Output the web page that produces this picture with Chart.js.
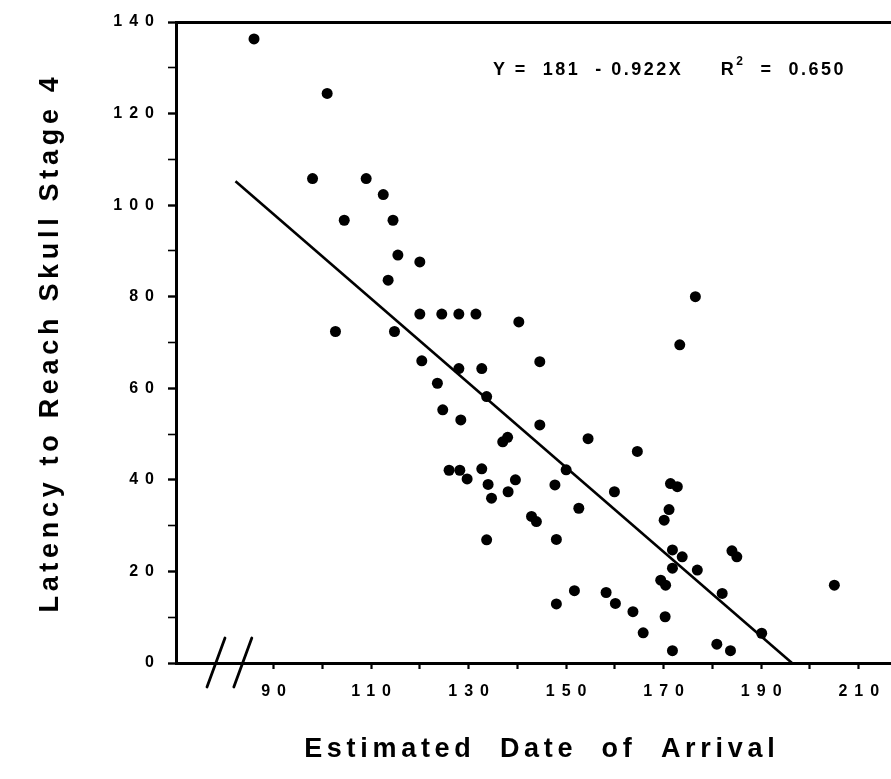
<!DOCTYPE html>
<html><head><meta charset="utf-8">
<script src="https://cdn.jsdelivr.net/npm/chart.js@4.4.1/dist/chart.umd.min.js"></script>
<style>
html,body{margin:0;padding:0;background:#fff;overflow:hidden;}
#wrap{position:relative;width:891px;height:779px;overflow:hidden;background:#fff;}
#c{display:block;}
#eq{position:absolute;left:493px;top:58px;font:bold 18px "Liberation Sans",Arial,sans-serif;letter-spacing:2.5px;white-space:pre;color:#000;line-height:22px;}
#eq sup{font-size:12px;position:relative;top:-10px;vertical-align:baseline;line-height:0;}
</style></head><body>
<div id="wrap"><canvas id="c" width="913" height="779"></canvas>
<div id="eq">Y =  181  - 0.922X     R<sup>2</sup>  =  0.650</div></div>
<script>
// Estimated date of arrival (x) and latency to reach skull stage 4 (y)
const arrivalDates = [86, 101, 98, 109, 112.5, 104.5, 114.5, 115.5, 120, 113.5,
  120, 124.5, 128, 131.5, 140.3, 102.7, 114.8, 176.5, 173.3, 120.4,
  128, 132.7, 123.6, 133.7, 124.7, 128.4, 137, 138, 126, 128.2,
  129.7, 132.7, 134, 134.7, 138.1, 139.6, 142.9, 143.9, 133.7, 144.6,
  144.6, 154.5, 164.6, 150, 147.7, 159.9, 171.4, 172.8, 152.6, 171.1,
  170.1, 148, 171.8, 173.8, 171.8, 176.9, 184, 185, 169.4, 170.4,
  182, 190.1, 205, 151.7, 148, 158.2, 160.1, 163.7, 165.8, 170.3,
  171.8, 180.9, 183.7];
const latencies = [136.3, 124.4, 105.8, 105.8, 102.3, 96.7, 96.7, 89.1, 87.6, 83.6,
  76.2, 76.2, 76.2, 76.2, 74.5, 72.4, 72.4, 80, 69.5, 66,
  64.3, 64.3, 61.1, 58.2, 55.3, 53.1, 48.3, 49.3, 42.1, 42.1,
  40.2, 42.4, 39, 36, 37.4, 40, 32, 30.9, 26.9, 65.8,
  52, 49, 46.2, 42.2, 38.9, 37.4, 39.2, 38.5, 33.8, 33.5,
  31.2, 27, 24.7, 23.2, 20.7, 20.3, 24.5, 23.2, 18.1, 17,
  15.2, 6.5, 17, 15.8, 12.9, 15.4, 13, 11.2, 6.6, 10.1,
  2.7, 4.1, 2.7];
// Fitted regression: Y = 181 - 0.922X
const fitIntercept = 181;
const fitSlope = -0.922;
const fitXStart = 82.2;
const xTickValues = [90, 100, 110, 120, 130, 140, 150, 160, 170, 180, 190, 200, 210, 220];
const xLabelValues = [90, 110, 130, 150, 170, 190, 210];
const yTickValues = [0, 10, 20, 30, 40, 50, 60, 70, 80, 90, 100, 110, 120, 130, 140];
const yLabelValues = [0, 20, 40, 60, 80, 100, 120, 140];
const axisBreakX = [78.2, 83.7];

const FONT = '"Liberation Sans", Arial, Helvetica, sans-serif';
const LS_TICK = 7, LS_TITLE = 4.7;

const scatterPoints = arrivalDates.map((x, i) => ({x: x, y: latencies[i]}));
const fitLine = [
  {x: fitXStart, y: fitIntercept + fitSlope * fitXStart},
  {x: -fitIntercept / fitSlope, y: 0}
];

const spacingPlugin = {
  id: 'spacing',
  beforeDraw(chart) {
    Object.values(chart.scales).forEach(s => {
      if (s._lsPatched) return;
      s._lsPatched = true;
      const dl = s.drawLabels, dt = s.drawTitle;
      s.drawLabels = function (area) {
        const ctx = this.ctx; ctx.save();
        ctx.letterSpacing = LS_TICK + 'px';
        if (this.isHorizontal()) ctx.translate(LS_TICK / 2, 0);
        dl.call(this, area); ctx.restore();
      };
      s.drawTitle = function () {
        const ctx = this.ctx; ctx.save();
        ctx.letterSpacing = LS_TITLE + 'px';
        dt.call(this); ctx.restore();
      };
    });
  }
};

const breakPlugin = {
  id: 'axisBreak',
  afterDraw(chart) {
    const ctx = chart.ctx, xs = chart.scales.x, y0 = chart.scales.y.getPixelForValue(0);
    ctx.save();
    ctx.strokeStyle = '#000'; ctx.lineWidth = 2.8; ctx.lineCap = 'round';
    axisBreakX.forEach(v => {
      const px = xs.getPixelForValue(v);
      ctx.beginPath();
      ctx.moveTo(px - 9, y0 + 24);
      ctx.lineTo(px + 9, y0 - 25);
      ctx.stroke();
    });
    ctx.restore();
  }
};

new Chart(document.getElementById('c'), {
  data: {
    datasets: [
      {type: 'scatter', data: scatterPoints, pointRadius: 5.5, pointHoverRadius: 5.5,
       backgroundColor: '#000', borderColor: '#000', borderWidth: 0},
      {type: 'line', data: fitLine, borderColor: '#000', borderWidth: 2.6,
       pointRadius: 0, fill: false, tension: 0}
    ]
  },
  options: {
    responsive: false,
    animation: false,
    events: [],
    layout: {padding: {left: 0, top: 22, right: 0, bottom: 0}},
    plugins: {legend: {display: false}, tooltip: {enabled: false}},
    scales: {
      x: {
        type: 'linear', position: 'bottom', min: 70, max: 220,
        afterBuildTicks: (s) => { s.ticks = xTickValues.map(v => ({value: v})); },
        afterFit: (s) => { s.height = 116; s.paddingRight = 0; s.paddingLeft = 0; },
        ticks: {
          autoSkip: false, maxRotation: 0, padding: 13, color: '#000',
          font: {family: FONT, size: 16, weight: 'bold'},
          callback: (v) => xLabelValues.includes(v) ? String(v) : ''
        },
        grid: {display: true, drawOnChartArea: false, drawTicks: true, tickLength: 6,
               tickWidth: 2.2, tickColor: '#000', color: '#000'},
        border: {display: true, width: 3, color: '#000'},
        title: {display: true, text: 'Estimated  Date  of  Arrival', color: '#000',
                font: {family: FONT, size: 27, weight: 'bold'}, padding: {top: 0, bottom: 13}}
      },
      xTop: {
        type: 'linear', position: 'top', min: 70, max: 220,
        afterFit: (s) => { s.height = 0; s.paddingRight = 0; s.paddingLeft = 0; },
        ticks: {display: false},
        grid: {display: false},
        border: {display: true, width: 3, color: '#000'}
      },
      y: {
        type: 'linear', position: 'left', min: 0, max: 140,
        afterBuildTicks: (s) => { s.ticks = yTickValues.map(v => ({value: v})); },
        afterFit: (s) => { s.width = 176; },
        ticks: {
          autoSkip: false, padding: 7, color: '#000',
          font: {family: FONT, size: 16, weight: 'bold'},
          callback: (v) => yLabelValues.includes(v) ? String(v) : ''
        },
        grid: {display: true, drawOnChartArea: false, drawTicks: true, tickLength: 8,
               tickWidth: (c) => (c.tick && c.tick.value % 20 === 0) ? 2.4 : 1.6,
               tickColor: '#000', color: '#000'},
        border: {display: true, width: 3, color: '#000'},
        title: {display: true, text: 'Latency to Reach Skull Stage 4', color: '#000',
                font: {family: FONT, size: 27, weight: 'bold'}, padding: {top: 34, bottom: 0}}
      }
    }
  },
  plugins: [spacingPlugin, breakPlugin]
});
</script>
</body></html>
